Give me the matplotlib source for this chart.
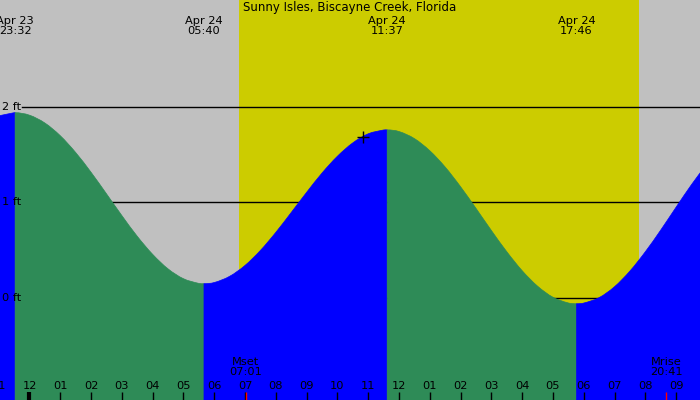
import matplotlib

matplotlib.use("Agg")
import matplotlib.pyplot as plt
import matplotlib.transforms as mtransforms
import numpy as np
from matplotlib.patches import PathPatch
from matplotlib.path import Path


TITLE = "Sunny Isles, Biscayne Creek, Florida"

# tide readings, hours from Apr 24 00:00 and height in ft
tide_hours = [-1.0, -0.5, -0.467, 0.0, 0.5, 1.0, 1.5, 2.0, 2.5, 3.0, 3.5, 4.0, 4.5, 5.0, 5.5, 5.667,
              6.0, 6.5, 7.0, 7.5, 8.0, 8.5, 9.0, 9.5, 10.0, 10.5, 11.0, 11.5, 11.617,
              12.0, 12.5, 13.0, 13.5, 14.0, 14.5, 15.0, 15.5, 16.0, 16.5, 17.0, 17.5, 17.767,
              18.0, 18.5, 19.0, 19.5, 20.0, 20.5, 21.0, 21.5, 22.0]
tide_ft = [1.907, 1.940, 1.940, 1.914, 1.832, 1.699, 1.523, 1.316, 1.091, 0.863, 0.646, 0.457, 0.305, 0.202, 0.153, 0.150,
           0.162, 0.227, 0.341, 0.498, 0.687, 0.895, 1.106, 1.308, 1.484, 1.624, 1.719, 1.759, 1.760,
           1.743, 1.669, 1.542, 1.371, 1.165, 0.939, 0.707, 0.485, 0.286, 0.124, 0.008, -0.052, -0.060,
           -0.053, 0.004, 0.118, 0.282, 0.484, 0.711, 0.951, 1.187, 1.404]

# high / low tides
ext_hours = [-0.467, 5.667, 11.617, 17.767]
ext_dates = ["Apr 23", "Apr 24", "Apr 24", "Apr 24"]
ext_times = ["23:32", "05:40", "11:37", "17:46"]

sunrise_hour = 6.80
sunset_hour = 19.80

moon_labels = ["Mset", "Mrise"]
moon_times = ["07:01", "20:41"]
moon_hours = [7.017, 20.683]

marker_hour = 10.83
marker_ft = 1.69

hour_ticks = list(range(-1, 22))
hour_labels = ["11", "12", "01", "02", "03", "04", "05", "06", "07", "08", "09", "10", "11",
               "12", "01", "02", "03", "04", "05", "06", "07", "08", "09"]

level_ft = [2, 1, 0]
level_labels = ["2 ft", "1 ft", "0 ft"]

GRAY = "#c0c0c0"
YELLOW = "#cccc00"
BLUE = "#0000ff"
GREEN = "#2e8b57"
FS = 8.2

XMIN, XMAX = -0.958, 21.776
YMIN, YMAX = -1.068, 3.12


def smooth_fill(seg_t, seg_h, color):
    # bezier through the readings, flat at the ends (they are high/low tides)
    n = len(seg_t)
    slope = np.zeros(n)
    for i in range(1, n - 1):
        slope[i] = (seg_h[i + 1] - seg_h[i - 1]) / (seg_t[i + 1] - seg_t[i - 1])
    if seg_t[0] not in ext_hours:
        slope[0] = (seg_h[1] - seg_h[0]) / (seg_t[1] - seg_t[0])
    if seg_t[-1] not in ext_hours:
        slope[-1] = (seg_h[-1] - seg_h[-2]) / (seg_t[-1] - seg_t[-2])
    verts = [(seg_t[0], YMIN), (seg_t[0], seg_h[0])]
    codes = [Path.MOVETO, Path.LINETO]
    for i in range(n - 1):
        dt = seg_t[i + 1] - seg_t[i]
        verts += [(seg_t[i] + dt / 3, seg_h[i] + slope[i] * dt / 3),
                  (seg_t[i + 1] - dt / 3, seg_h[i + 1] - slope[i + 1] * dt / 3),
                  (seg_t[i + 1], seg_h[i + 1])]
        codes += [Path.CURVE4] * 3
    verts += [(seg_t[-1], YMIN), (seg_t[0], YMIN)]
    codes += [Path.LINETO, Path.CLOSEPOLY]
    ax.add_patch(PathPatch(Path(verts, codes), facecolor=color, edgecolor=color, lw=0.5, zorder=2))


fig = plt.figure(figsize=(7, 4), dpi=100)
ax = fig.add_axes([0, 0, 1, 1])
ax.set_xlim(XMIN, XMAX)
ax.set_ylim(YMIN, YMAX)
ax.axis("off")

# day / night background
ax.axvspan(XMIN, sunrise_hour, color=GRAY, lw=0, zorder=0)
ax.axvspan(sunrise_hour, sunset_hour, color=YELLOW, lw=0, zorder=0)
ax.axvspan(sunset_hour, XMAX, color=GRAY, lw=0, zorder=0)

# level lines, behind the water
x_line_start = XMIN + 22 / 700 * (XMAX - XMIN)
for lv in level_ft:
    ax.plot([x_line_start, XMAX], [lv, lv], color="black", lw=1, zorder=1)

# water: blue while rising, green while falling
t = np.array(tide_hours)
h = np.array(tide_ft)
bounds = [t[0]] + ext_hours + [t[-1]]
for a, b in zip(bounds[:-1], bounds[1:]):
    m = (t >= a) & (t <= b)
    seg_t, seg_h = t[m], h[m]
    color = BLUE if seg_h[-1] > seg_h[0] else GREEN
    smooth_fill(seg_t, seg_h, color)

ax.plot(marker_hour, marker_ft, marker="+", color="black", ms=9, mew=1, zorder=4)

for lv, lab in zip(level_ft, level_labels):
    ax.text(XMIN + 2 / 700 * (XMAX - XMIN), lv, lab, ha="left", va="center", fontsize=FS, zorder=5)

trans = mtransforms.blended_transform_factory(ax.transData, ax.transAxes)

ax.text(0.5, 0.98, TITLE, transform=ax.transAxes, ha="center", va="center", fontsize=8.5, zorder=5)
for x, d, tm in zip(ext_hours, ext_dates, ext_times):
    ax.text(x, 0.936, d + "\n" + tm, transform=trans, ha="center", va="center",
            fontsize=FS, linespacing=0.98, zorder=5)

for x, lab in zip(hour_ticks, hour_labels):
    ax.text(x, 0.035, lab, transform=trans, ha="center", va="center", fontsize=FS, zorder=5)
    lw = 3 if x == 0 else 1
    ax.plot([x, x], [0, 0.02], transform=trans, color="black", lw=lw, zorder=5, solid_capstyle="butt")

for x, lab, tm in zip(moon_hours, moon_labels, moon_times):
    ax.text(x, 0.0825, lab + "\n" + tm, transform=trans, ha="center", va="center",
            fontsize=FS, linespacing=1.06, zorder=5)
    ax.plot([x, x], [0, 0.02], transform=trans, color="red", lw=1, zorder=5, solid_capstyle="butt")

fig.savefig("out.png", dpi=100)
